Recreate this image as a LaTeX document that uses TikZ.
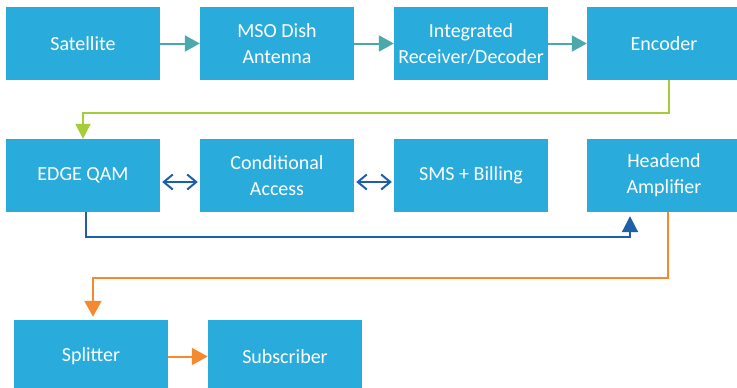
\documentclass[tikz,border=0pt]{standalone}
\usepackage{fontspec}
\setmainfont{Carlito}
\usetikzlibrary{arrows.meta,calc}
\definecolor{boxblue}{HTML}{29ABDC}
\definecolor{tealar}{HTML}{4BA8AC}
\definecolor{greenar}{HTML}{A5CD39}
\definecolor{bluear}{HTML}{1D5FA8}
\definecolor{orangear}{HTML}{F48A30}
\tikzset{
  blk/.style={fill=boxblue, draw=none, minimum width=154pt, minimum height=73pt,
    inner sep=0pt, text=white, align=center, font=\fontsize{20}{26}\selectfont},
  tealline/.style={draw=tealar, line width=2pt, -{Triangle[length=15pt,width=16pt]}},
  greenline/.style={draw=greenar, line width=2pt, -{Triangle[length=15pt,width=15pt]}},
  blueline/.style={draw=bluear, line width=2pt, -{Triangle[length=16pt,width=16pt]}},
  dblline/.style={draw=bluear, line width=2pt, {Straight Barb[length=9pt,width=15pt]}-{Straight Barb[length=9pt,width=15pt]}},
  orangeline/.style={draw=orangear, line width=2pt, -{Triangle[length=16pt,width=17pt]}}
}
\begin{document}
\begin{tikzpicture}[x=1pt,y=-1pt]
\useasboundingbox (0,0) rectangle (737,388);
\fill[white] (0,0) rectangle (737,388);
% row 1
\node[blk] (sat) at (83,43.5) {Satellite};
\node[blk] (mso) at (277,43.5) {MSO Dish\\Antenna};
\node[blk] (ird) at (471,43.5) {Integrated\\Receiver/Decoder};
\node[blk] (enc) at (664,43.5) {Encoder};
% row 2
\node[blk] (edge) at (83,175.5) {EDGE QAM};
\node[blk] (ca) at (277,175.5) {Conditional\\Access};
\node[blk] (sms) at (471,175.5) {SMS + Billing};
\node[blk] (head) at (664,175.5) {Headend\\Amplifier};
% row 3
\node[blk] (split) at (91,356.5) {Splitter};
\node[blk] (sub) at (285,356.5) {Subscriber};
% connectors
\draw[tealline] (sat) -- (mso);
\draw[tealline] (mso) -- (ird);
\draw[tealline] (ird) -- (enc);
\draw[greenline] ($(enc.south)+(5,0)$) |- ($(edge.north)+(0,-26)$) -- (edge.north);
\draw[dblline, shorten <=2pt, shorten >=2pt] ($(edge.east)+(0,6.5)$) -- ($(ca.west)+(0,6.5)$);
\draw[dblline, shorten <=2pt, shorten >=2pt] ($(ca.east)+(0,6.5)$) -- ($(sms.west)+(0,6.5)$);
\draw[blueline, shorten >=4pt] ($(edge.south)+(3,0)$) |- ($(head.south)+(-34,25)$) -- ($(head.south)+(-34,0)$);
\draw[orangeline, shorten >=3pt] ($(head.south)+(4,0)$) |- ($(split.north)+(2,-42)$) -- ($(split.north)+(2,0)$);
\draw[orangeline] (split) -- (sub);
\end{tikzpicture}
\end{document}
